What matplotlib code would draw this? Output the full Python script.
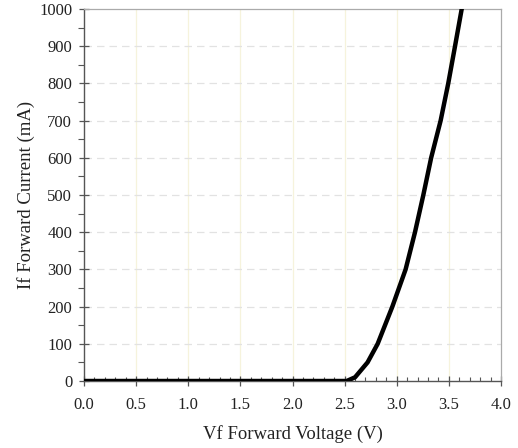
import matplotlib
matplotlib.use("Agg")
import matplotlib.pyplot as plt
from matplotlib.ticker import MultipleLocator

# Forward voltage (V) vs forward current (mA)
vf = [0.0, 2.52, 2.60, 2.72, 2.817, 2.958, 3.085, 3.175, 3.255, 3.33, 3.421, 3.494, 3.559, 3.623]
i_f = [0, 0, 10, 50, 100, 200, 300, 400, 500, 600, 700, 800, 900, 1000]

plt.rcParams['font.family'] = ['Liberation Serif', 'DejaVu Serif']

fig = plt.figure(figsize=(5.18, 4.48), dpi=100)
ax = fig.add_axes([84 / 518, 1 - 381 / 448, 417 / 518, 372 / 448])

ax.plot(vf, i_f, color='black', linewidth=3.2, solid_joinstyle='round', zorder=3)

ax.set_xlim(0, 4.0)
ax.set_ylim(0, 1000)
ax.xaxis.set_major_locator(MultipleLocator(0.5))
ax.xaxis.set_minor_locator(MultipleLocator(0.1))
ax.yaxis.set_major_locator(MultipleLocator(100))
ax.yaxis.set_minor_locator(MultipleLocator(50))
ax.set_xticklabels([f"{v:.1f}" for v in ax.get_xticks()])

# grid: faint yellowish verticals, dashed gray horizontals
for x in [0.5, 1.0, 1.5, 2.0, 2.5, 3.0, 3.5]:
    ax.axvline(x, color='#f6f3dc', linewidth=0.9, zorder=0)
for y in range(100, 1000, 100):
    ax.axhline(y, color='#e2e2e2', linewidth=0.9, linestyle=(0, (6, 4)), zorder=0)

for s in ['left', 'bottom']:
    ax.spines[s].set_color('#555555')
    ax.spines[s].set_linewidth(1.0)
for s in ['top', 'right']:
    ax.spines[s].set_color('#aaaaaa')
    ax.spines[s].set_linewidth(0.9)

ax.tick_params(axis='both', which='major', direction='inout', length=7, width=0.9,
               color='#555555', labelsize=12, labelcolor='#222222', pad=5)
ax.tick_params(axis='x', which='major', pad=8)
ax.tick_params(axis='x', which='minor', direction='in', length=3, width=0.8, color='#555555')
ax.tick_params(axis='y', which='minor', direction='out', length=4, width=0.8, color='#555555')

ax.set_xlabel('Vf Forward Voltage (V)', fontsize=13.5, color='#222222', labelpad=9)
ax.set_ylabel('If Forward Current (mA)', fontsize=13.5, color='#222222', labelpad=3)

fig.savefig('out.png', dpi=100)
